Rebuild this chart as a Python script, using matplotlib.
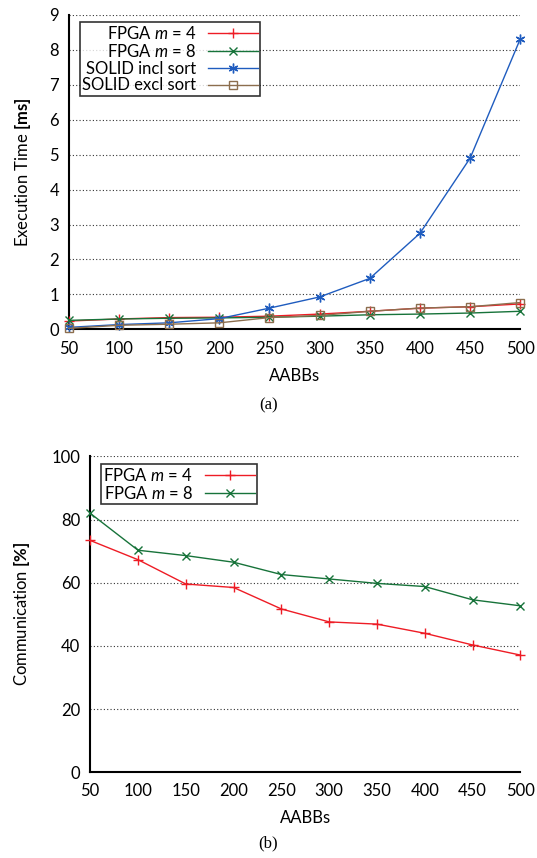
import matplotlib
matplotlib.use("Agg")
import matplotlib.pyplot as plt

plt.rcParams['font.family'] = ['Lato', 'DejaVu Sans']
plt.rcParams['mathtext.fontset'] = 'custom'
plt.rcParams['mathtext.rm'] = 'Lato'
plt.rcParams['mathtext.it'] = 'Lato:italic'
plt.rcParams['mathtext.bf'] = 'Lato:bold'

aabbs = [50, 100, 150, 200, 250, 300, 350, 400, 450, 500]
fpga_m4_time = [0.24, 0.30, 0.34, 0.35, 0.38, 0.44, 0.52, 0.61, 0.65, 0.73]
fpga_m8_time = [0.26, 0.30, 0.32, 0.33, 0.35, 0.38, 0.42, 0.44, 0.47, 0.52]
solid_incl_time = [0.06, 0.14, 0.19, 0.31, 0.61, 0.93, 1.46, 2.75, 4.9, 8.31]
solid_excl_time = [0.03, 0.12, 0.15, 0.19, 0.34, 0.40, 0.52, 0.61, 0.65, 0.77]

fpga_m4_comm = [73.4, 67.3, 59.6, 58.5, 51.7, 47.6, 46.9, 44.0, 40.3, 37.1]
fpga_m8_comm = [82.0, 70.3, 68.6, 66.5, 62.6, 61.2, 59.8, 58.8, 54.6, 52.7]

labels = ["FPGA $\\mathit{m}$ = 4", "FPGA $\\mathit{m}$ = 8", "SOLID incl sort", "SOLID excl sort"]

c_red = '#ee1c25'
c_green = '#17733a'
c_blue = '#1f5cbf'
c_brown = '#8c6e4e'

fig = plt.figure(figsize=(5.37, 8.58), dpi=100)
ax1 = fig.add_axes([0.128, 0.616, 0.841, 0.367])
ax2 = fig.add_axes([0.168, 0.100, 0.801, 0.368])

def style(ax, ylim, yticks):
    ax.set_xlim(50, 500)
    ax.set_ylim(*ylim)
    ax.set_xticks(aabbs)
    ax.set_yticks(yticks)
    for s in ['top', 'right']:
        ax.spines[s].set_visible(False)
    for s in ['left', 'bottom']:
        ax.spines[s].set_linewidth(1.5)
    ax.tick_params(axis='y', length=0, labelsize=12, pad=7)
    ax.tick_params(axis='x', length=0, labelsize=12, pad=8)
    ax.yaxis.grid(True, linestyle=(0, (1, 2)), color='#333333', linewidth=0.8)
    ax.set_axisbelow(True)
    ax.set_xlabel('AABBs', fontsize=12, labelpad=8)

lw = 1.0
ax1.plot(aabbs, fpga_m4_time, color=c_red, marker='+', ms=7, lw=lw, label=labels[0], clip_on=False, zorder=3)
ax1.plot(aabbs, fpga_m8_time, color=c_green, marker='x', ms=6, lw=lw, label=labels[1], clip_on=False, zorder=3)
ax1.plot(aabbs, solid_incl_time, color=c_blue, marker=(6, 2, 0), ms=7, lw=lw, label=labels[2], clip_on=False, zorder=3)
ax1.plot(aabbs, solid_excl_time, color=c_brown, marker='s', ms=6, mfc='none', lw=lw, label=labels[3], clip_on=False, zorder=3)
style(ax1, (0, 9), range(0, 10))
ax1.set_ylabel('Execution Time $\\mathbf{[ms]}$', fontsize=12, labelpad=12)
leg1 = ax1.legend(loc='upper left', bbox_to_anchor=(0.024, 0.975), markerfirst=False, fancybox=False,
                  edgecolor='black', fontsize=12, handlelength=3.0, borderpad=0.15, labelspacing=0.05,
                  handletextpad=0.7, borderaxespad=0)
leg1.get_frame().set_linewidth(1.2)
leg1._legend_box.align = 'right'

ax2.plot(aabbs, fpga_m4_comm, color=c_red, marker='+', ms=7, lw=lw, label=labels[0], clip_on=False, zorder=3)
ax2.plot(aabbs, fpga_m8_comm, color=c_green, marker='x', ms=6, lw=lw, label=labels[1], clip_on=False, zorder=3)
style(ax2, (0, 100), range(0, 101, 20))
ax2.set_ylabel('Communication $\\mathbf{[\\%]}$', fontsize=12, labelpad=14)
leg2 = ax2.legend(loc='upper left', bbox_to_anchor=(0.025, 0.975), markerfirst=False, fancybox=False,
                  edgecolor='black', fontsize=12, handlelength=3.0, borderpad=0.15, labelspacing=0.05,
                  handletextpad=0.7, borderaxespad=0)
leg2.get_frame().set_linewidth(1.2)

fig.text(0.5, 1 - 405 / 858, '(a)', ha='center', va='center', fontsize=12, family='Liberation Serif')
fig.text(0.5, 1 - 843 / 858, '(b)', ha='center', va='center', fontsize=12, family='Liberation Serif')

fig.savefig('out.png', dpi=100)
